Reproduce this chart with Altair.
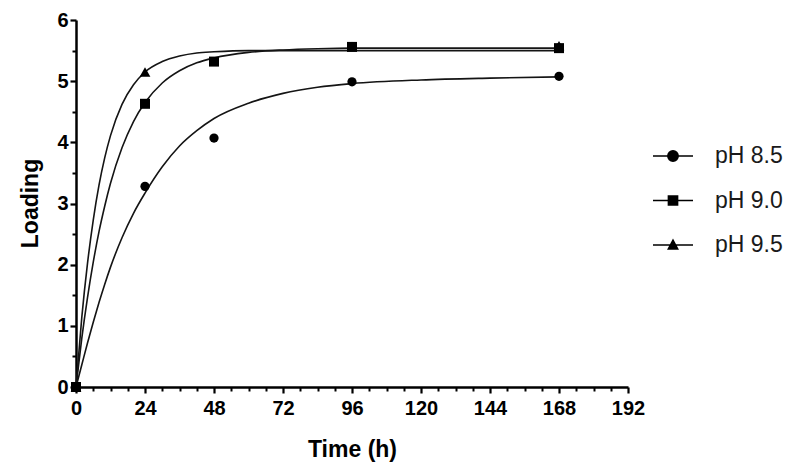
import altair as alt
import pandas as pd

# ---------------- data ----------------
series = ["pH 8.5", "pH 9.0", "pH 9.5"]

t_85 = [0, 24, 48, 96, 168]
y_85 = [0, 3.28, 4.07, 4.99, 5.08]
t_90 = [0, 24, 48, 96, 168]
y_90 = [0, 4.63, 5.32, 5.56, 5.54]
t_95 = [0, 24, 96, 168]
y_95 = [0, 5.15, 5.57, 5.58]

fit_t = [0, 2, 4, 6, 8, 10, 12, 16, 20, 24, 30, 36, 42, 48, 60, 72, 84, 96, 120, 144, 168]
fit_85 = [0, 0.36, 0.72, 1.06, 1.38, 1.68, 1.96, 2.44, 2.84, 3.17, 3.60, 3.94, 4.19, 4.39, 4.64, 4.80, 4.90, 4.96, 5.02, 5.05, 5.07]
fit_90 = [0, 0.79, 1.46, 2.04, 2.54, 2.96, 3.33, 3.91, 4.34, 4.65, 4.97, 5.17, 5.30, 5.38, 5.47, 5.51, 5.53, 5.54, 5.54, 5.54, 5.54]
fit_95 = [0, 1.13, 2.02, 2.73, 3.30, 3.75, 4.11, 4.62, 4.94, 5.15, 5.32, 5.41, 5.46, 5.48, 5.50, 5.50, 5.50, 5.50, 5.50, 5.50, 5.50]

x_ticks = [0, 24, 48, 72, 96, 120, 144, 168, 192]
x_minor = [6, 12, 18, 30, 36, 42, 54, 60, 66, 78, 84, 90, 102, 108, 114,
           126, 132, 138, 150, 156, 162, 174, 180, 186]
y_ticks = [0, 1, 2, 3, 4, 5, 6]
y_minor = [0.5, 1.5, 2.5, 3.5, 4.5, 5.5]

# ---------------- tables ----------------
pts = pd.DataFrame({
    "t": t_85 + t_90 + t_95,
    "y": y_85 + y_90 + y_95,
    "series": [series[0]] * len(t_85) + [series[1]] * len(t_90) + [series[2]] * len(t_95),
})
fits = pd.DataFrame({
    "t": fit_t * 3,
    "y": fit_85 + fit_90 + fit_95,
    "series": [series[0]] * len(fit_t) + [series[1]] * len(fit_t) + [series[2]] * len(fit_t),
})

# ---------------- styles ----------------
FONT = "Liberation Sans"
plot_shapes = ["circle", "square", "triangle-up"]


def ring(r):
    return f"M{r:.3f},0A{r:.3f},{r:.3f},0,1,1,{-r:.3f},0A{r:.3f},{r:.3f},0,1,1,{r:.3f},0Z"


def sq(h):
    return f"M{-h:.3f},{-h:.3f}H{h:.3f}V{h:.3f}H{-h:.3f}Z"


def tri(s):
    return f"M0,{-s:.3f}L{s * 0.95:.3f},{s * 0.8:.3f}H{-s * 0.95:.3f}Z"


steps = [1.0, 0.8, 0.6, 0.4, 0.22, 0.08]
legend_shapes = [
    "M-1,0H1" + "".join(ring(0.26 * k) for k in steps),
    "M-1,0H1" + "".join(sq(0.23 * k) for k in steps),
    "M-1,0H1" + "".join(tri(0.25 * k) for k in steps),
]

xs = alt.Scale(domain=[0, 192], nice=False, zero=True)
ys = alt.Scale(domain=[0, 6], nice=False, zero=True)

major_common = dict(
    domain=True, domainColor="black", domainWidth=2.5,
    ticks=True, tickColor="black", tickWidth=2.2, tickSize=6,
    labels=True, labelFont=FONT, labelFontWeight="bold", labelFontSize=20,
    labelColor="black", grid=False,
    titleFont=FONT, titleFontWeight="bold", titleFontSize=23, titleColor="black",
    titleBaseline="middle",
)

x_axis = alt.Axis(values=x_ticks, orient="bottom", title="Time (h)", labelPadding=5,
                  titleX=276, titleY=62, labelFlush=False, labelOverlap=False, **major_common)
y_axis = alt.Axis(values=y_ticks, orient="left", title="Loading", labelPadding=2,
                  titleX=-46, titleY=183, titleAngle=-90, labelOverlap=False, **major_common)

x_minor_axis = alt.Axis(values=x_minor, orient="bottom", title=None, labels=False, domain=False,
                        ticks=True, tickColor="black", tickWidth=2, tickSize=4, grid=False)
y_minor_axis = alt.Axis(values=y_minor, orient="left", title=None, labels=False, domain=False,
                        ticks=True, tickColor="black", tickWidth=2, tickSize=4, grid=False)

fit_layer = alt.Chart(fits).mark_line(
    interpolate="monotone", color="#141414", strokeWidth=1.6
).encode(
    x=alt.X("t:Q", scale=xs, axis=x_axis),
    y=alt.Y("y:Q", scale=ys, axis=y_axis),
    detail="series:N",
)

point_layer = alt.Chart(pts).mark_point(
    filled=True, opacity=1, color="black"
).encode(
    x=alt.X("t:Q", scale=xs, axis=None),
    y=alt.Y("y:Q", scale=ys, axis=None),
    shape=alt.Shape("series:N", scale=alt.Scale(domain=series, range=plot_shapes), legend=None),
    size=alt.Size("series:O", scale=alt.Scale(domain=series, range=[85, 115, 75]), legend=None),
)

legend_layer = alt.Chart(pts).transform_filter("datum.t < 0").mark_point(
    filled=False, opacity=1, fill="black", stroke="black", strokeWidth=1.5
).encode(
    x=alt.X("t:Q", scale=xs, axis=x_minor_axis),
    y=alt.Y("y:Q", scale=ys, axis=y_minor_axis),
    shape=alt.Shape(
        "series:N",
        scale=alt.Scale(domain=series, range=legend_shapes),
        legend=alt.Legend(
            title=None, orient="none", legendX=576, legendY=115, padding=0,
            rowPadding=11.5, labelOffset=21, labelFont=FONT, labelFontSize=23,
            labelColor="#1a1a1a", labelLimit=300, symbolSize=1600,
            symbolStrokeWidth=1.5, symbolOpacity=1,
        ),
    ),
)

chart = alt.layer(fit_layer, point_layer, legend_layer).resolve_scale(
    shape="independent", size="independent"
).resolve_axis(
    x="independent", y="independent"
).properties(
    width=552, height=367,
    autosize=alt.AutoSizeParams(type="none"),
    padding={"left": 68, "top": 12, "right": 164, "bottom": 76},
    background="white",
).configure_view(stroke=None)

chart.save("out.html", embed_options={"renderer": "svg", "actions": False})
